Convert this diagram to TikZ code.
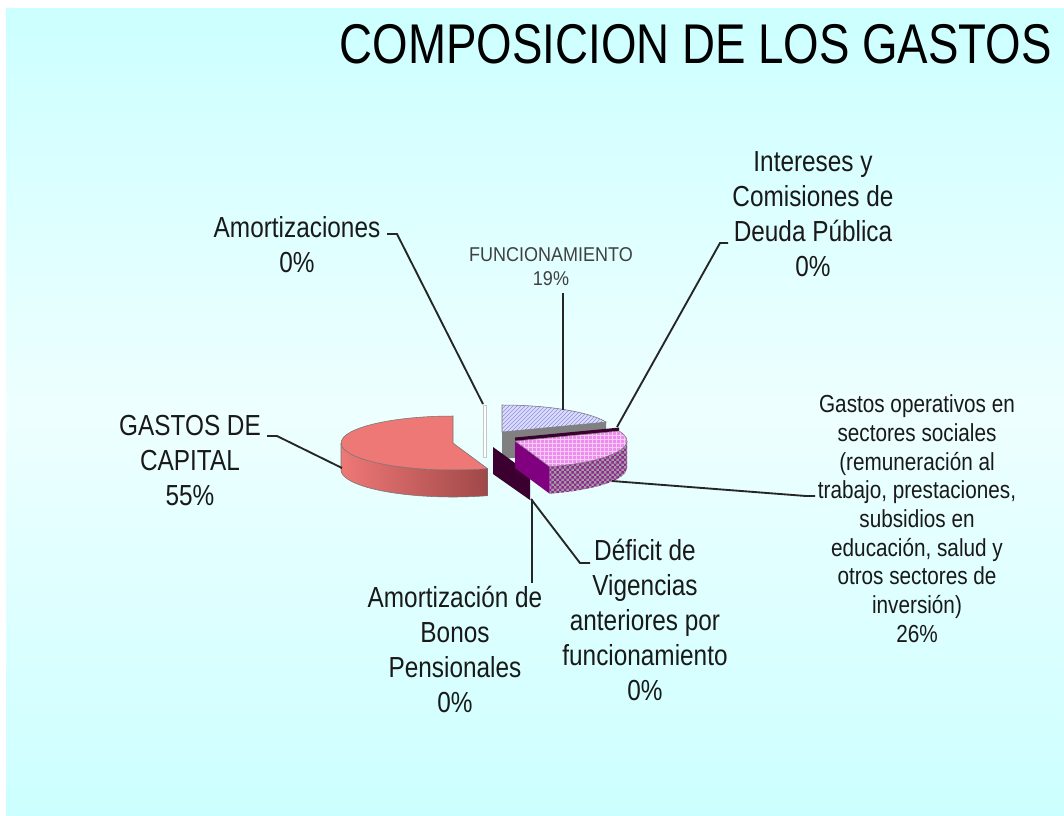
\documentclass[tikz,border=0pt]{standalone}
\usepackage{fontspec}
\setmainfont{Liberation Sans}
\newfontfamily\narrowsans[FakeStretch=0.84]{Liberation Sans}
\newfontfamily\titlesans[FakeStretch=0.815]{Liberation Sans}
\newfontfamily\smallsans[FakeStretch=0.9]{Liberation Sans}
\usetikzlibrary{patterns,calc,positioning}

\definecolor{bgcyan}{RGB}{204,255,255}
\definecolor{bglight}{RGB}{238,255,255}
\definecolor{capred}{RGB}{238,120,118}
\definecolor{capdark}{RGB}{160,72,72}
\definecolor{funcblue}{RGB}{140,140,235}
\definecolor{opink}{RGB}{238,140,238}
\definecolor{opurple}{RGB}{128,0,128}
\definecolor{plum}{RGB}{60,0,48}

% small checks for the rim of the 26% slice
\pgfdeclarepatternformonly{smallchecks}{\pgfpointorigin}{\pgfqpoint{4pt}{4pt}}{\pgfqpoint{4pt}{4pt}}{%
  \pgfpathrectangle{\pgfpointorigin}{\pgfqpoint{2pt}{2pt}}%
  \pgfpathrectangle{\pgfqpoint{2pt}{2pt}}{\pgfqpoint{2pt}{2pt}}%
  \pgfusepath{fill}}

\tikzset{
  lbl/.style={align=center, inner sep=0pt, anchor=base, text=black!90,
    font=\narrowsans\fontsize{21.75}{26.25}\selectfont},
  leader/.style={draw=black!85, line width=1.4pt},
  slice/.style={draw=black!55, line width=0.4pt},
}

\begin{document}
\begin{tikzpicture}[x=0.75pt, y=-0.75pt]

  % Background
  \useasboundingbox (0,0) rectangle (1064,815);
  \fill[white] (0,0) rectangle (1064,815);
  \shade[top color=bgcyan, bottom color=bgcyan, middle color=bglight] (6,8) rectangle (1064,815);

  % Title
  \node[anchor=base east, inner sep=0pt, font=\titlesans\fontsize{42}{48}\selectfont] (title) at (1052,63) {COMPOSICION DE LOS GASTOS};

  % Slice centres
  \coordinate (R) at (453,443);
  \coordinate (B) at (502,432);
  \coordinate (P) at (515,441);

  % GASTOS DE CAPITAL slice
  \fill[capred] (R) -- ($(R)+(72:112 and 27)$) arc[start angle=72, end angle=270, x radius=112, y radius=27] -- cycle;
  \shade[left color=capred, right color=capdark] ($(R)+(72:112 and 27)$) arc[start angle=72, end angle=180, x radius=112, y radius=27] -- ++(0,27) arc[start angle=180, end angle=72, x radius=112, y radius=27] -- cycle;
  \draw[slice] (R) -- ($(R)+(72:112 and 27)$) arc[start angle=72, end angle=270, x radius=112, y radius=27] -- cycle;
  \draw[slice] ($(R)+(72:112 and 27)$) -- ++(0,27) arc[start angle=72, end angle=180, x radius=112, y radius=27] -- ++(0,-27);

  % Amortizaciones (0%)
  \draw[gray!45, line width=2.6pt] (485,405) -- (485,458);
  \draw[white, line width=1.2pt] (485,406) -- (485,457);

  % FUNCIONAMIENTO slice
  \fill[gray] (B) -- ($(B)+(-21.6:112 and 27)$) -- ++(0,27) -- ($(B)+(0,27)$) -- cycle;
  \fill[funcblue!30] (B) -- ($(B)+(-90:112 and 27)$) arc[start angle=-90, end angle=-21.6, x radius=112, y radius=27] -- cycle;
  \fill[pattern=north east lines, pattern color=funcblue] (B) -- ($(B)+(-90:112 and 27)$) arc[start angle=-90, end angle=-21.6, x radius=112, y radius=27] -- cycle;
  \draw[slice] (B) -- ($(B)+(-90:112 and 27)$) arc[start angle=-90, end angle=-21.6, x radius=112, y radius=27] -- cycle;

  % Intereses (0%) and Deficit / Bonos (0%)
  \fill[plum] ($(P)+(0,-3.5)$) -- ($(P)+(-21.6:112 and 27)+(0,-3.5)$) -- ($(P)+(-21.6:112 and 27)$) -- (P) -- cycle;
  \fill[plum] (493,447) -- (530,474) -- (530,500) -- (493,474) -- cycle;

  % Gastos operativos slice
  \fill[gray!75] ($(P)+(0:112 and 27)$) arc[start angle=0, end angle=72, x radius=112, y radius=27] -- ++(0,27) arc[start angle=72, end angle=0, x radius=112, y radius=27] -- cycle;
  \fill[pattern=smallchecks, pattern color=opurple!85] ($(P)+(0:112 and 27)$) arc[start angle=0, end angle=72, x radius=112, y radius=27] -- ++(0,27) arc[start angle=72, end angle=0, x radius=112, y radius=27] -- cycle;
  \fill[opurple] (P) -- ($(P)+(72:112 and 27)$) -- ++(0,27) -- ($(P)+(0,27)$) -- cycle;
  \fill[opink] (P) -- ($(P)+(-21.6:112 and 27)$) arc[start angle=-21.6, end angle=72, x radius=112, y radius=27] -- cycle;
  \fill[pattern=grid, pattern color=white!55!opink] (P) -- ($(P)+(-21.6:112 and 27)$) arc[start angle=-21.6, end angle=72, x radius=112, y radius=27] -- cycle;
  \draw[slice] (P) -- ($(P)+(-21.6:112 and 27)$) arc[start angle=-21.6, end angle=72, x radius=112, y radius=27] -- cycle;

  % Define nodes (base = last line)
  \node[lbl] (amort) at (297,272) {Amortizaciones\\0\%};
  \node[lbl, text=black!75, font=\smallsans\fontsize{15}{18}\selectfont] (func) at (551,285) {FUNCIONAMIENTO\\19\%};
  \node[lbl] (inter) at (813,276) {Intereses y\\Comisiones de\\Deuda Pública\\0\%};
  \node[lbl] (capital) at (190,505) {GASTOS DE\\CAPITAL\\55\%};
  \node[lbl, font=\narrowsans\fontsize{18.5}{21.5}\selectfont] (gastosop) at (917,642) {Gastos operativos en\\sectores sociales\\(remuneración al\\trabajo, prestaciones,\\subsidios en\\educación, salud y\\otros sectores de\\inversión)\\26\%};
  \node[lbl] (deficit) at (645,700) {Déficit de\\Vigencias\\anteriores por\\funcionamiento\\0\%};
  \node[lbl] (bonos) at (455,712) {Amortización de\\Bonos\\Pensionales\\0\%};

  % Leader ends
  \coordinate (amortK) at (387,234);
  \coordinate (amortT) at (483,404);
  \coordinate (capK) at (267,436);
  \coordinate (capT) at (342,468);
  \coordinate (funcK) at (563,293);
  \coordinate (funcT) at (563,410);
  \coordinate (interK) at (728,243);
  \coordinate (interT) at (617,427);
  \coordinate (opK) at (815,496);
  \coordinate (opT) at (612,481);
  \coordinate (defK) at (590,563);
  \coordinate (defT) at (531,499);
  \coordinate (bonK) at (532,583);
  \coordinate (bonT) at (532,499);

  % Connect the nodes
  \draw[leader] (amortK) -- ++(10,0) -- (amortT);
  \draw[leader] (capK) -- ++(10,0) -- (capT);
  \draw[leader] (funcK) -- (funcT);
  \draw[leader] (interK) -- ++(-8,0) -- (interT);
  \draw[leader] (opK) -- ++(-9,0) -- (opT);
  \draw[leader] (defK) -- ++(-10,0) -- (defT);
  \draw[leader] (bonK) -- (bonT);

\end{tikzpicture}
\end{document}
